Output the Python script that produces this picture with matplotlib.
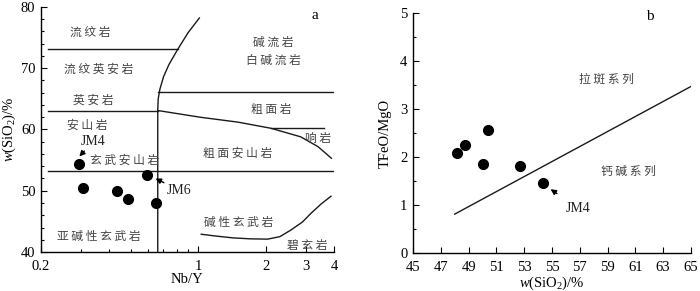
import matplotlib
matplotlib.use('Agg')
import matplotlib.pyplot as plt
from matplotlib.ticker import FixedLocator, FixedFormatter, MultipleLocator, NullFormatter

plt.rcParams['font.family'] = ['Liberation Serif', 'Noto Sans CJK SC']
plt.rcParams['mathtext.fontset'] = 'custom'
plt.rcParams['mathtext.rm'] = 'Liberation Serif'
plt.rcParams['mathtext.it'] = 'Liberation Serif:italic'

# --- panel a: Nb/Y vs SiO2 ---
nby = [0.295, 0.306, 0.435, 0.487, 0.594, 0.649]
sio2_a = [54.4, 50.4, 50.0, 48.65, 52.6, 48.05]

# field boundaries
line_rhy = ([0.215, 0.81], [73.1, 73.1])
line_dac = ([0.215, 0.66], [63.1, 63.1])
line_bas = ([0.215, 4.0], [53.2, 53.2])
line_trach = ([0.66, 4.0], [66.1, 66.1])
line_phon = ([2.1, 3.6], [60.2, 60.2])
curve_alk_x = [1.01, 0.90, 0.81, 0.74, 0.70, 0.675, 0.663, 0.66, 0.66]
curve_alk_y = [78.2, 75.8, 73.1, 70.6, 68.6, 66.6, 65.0, 63.1, 40.0]
curve_tr_x = [0.66, 1.02, 1.5, 2.1, 2.85, 3.4, 3.9]
curve_tr_y = [63.1, 62.0, 61.2, 60.2, 58.8, 57.2, 55.3]
curve_bsn_x = [1.03, 1.2, 1.43, 1.7, 2.03, 2.3, 2.58, 2.9, 3.16, 3.5, 3.88]
curve_bsn_y = [42.9, 42.6, 42.3, 42.15, 42.1, 42.5, 43.6, 44.9, 46.3, 47.8, 49.1]

# --- panel b: SiO2 vs TFeO/MgO ---
sio2_b = [48.14, 48.74, 50.01, 52.68, 54.37, 50.42]
feo_mgo = [2.08, 2.25, 1.85, 1.81, 1.45, 2.56]
miyashiro_x = [48.0, 65.0]
miyashiro_y = [0.81, 3.47]
xticks_b = [45, 47, 49, 51, 53, 55, 57, 59, 61, 63, 65]

fig = plt.figure(figsize=(7.0, 2.91), dpi=100)
ax1 = fig.add_axes([0.0586, 0.134, 0.4184, 0.842])
ax2 = fig.add_axes([0.59, 0.1306, 0.397, 0.8244])

lc = '#1a1a1a'
tc = '#444444'
cfs = 8.5
cjk = ['Noto Sans CJK SC']
for xs, ys in [line_rhy, line_dac, line_bas, line_trach, line_phon]:
    ax1.plot(xs, ys, color=lc, lw=1.0)
ax1.plot(curve_alk_x, curve_alk_y, color=lc, lw=1.0)
ax1.plot(curve_tr_x, curve_tr_y, color=lc, lw=1.0)
ax1.plot(curve_bsn_x, curve_bsn_y, color=lc, lw=1.0)
ax1.plot(nby, sio2_a, 'o', color='black', ms=7, zorder=5)

labels_a = [
    ('流 纹 岩', 0.33, 75.9), ('流 纹 英 安 岩', 0.36, 69.9), ('英 安 岩', 0.34, 64.8),
    ('安 山 岩', 0.32, 60.7), ('玄 武 安 山 岩', 0.47, 54.9), ('粗 面 安 山 岩', 1.49, 56.1),
    ('碱 流 岩', 2.16, 74.3), ('白 碱 流 岩', 2.16, 71.3), ('粗 面 岩', 2.1, 63.3),
    ('响 岩', 3.4, 58.6), ('碱 性 玄 武 岩', 1.51, 44.9), ('亚 碱 性 玄 武 岩', 0.36, 42.5),
    ('碧 玄 岩', 3.06, 41.0),
]
for s, x, y in labels_a:
    ax1.text(x, y, s, fontsize=cfs, ha='center', va='center', color=tc, family=cjk)

ax1.annotate('JM4', xy=(0.296, 55.6), xytext=(0.34, 58.0), fontsize=10, color='#222222',
             ha='center', va='center',
             arrowprops=dict(arrowstyle='-|>', color='black', lw=1.0, shrinkA=6, shrinkB=0,
                             mutation_scale=8))
ax1.annotate('JM6', xy=(0.645, 52.0), xytext=(0.82, 50.1), fontsize=10, color='#222222',
             ha='center', va='center',
             arrowprops=dict(arrowstyle='-|>', color='black', lw=1.0, shrinkA=9, shrinkB=0,
                             mutation_scale=8))
ax1.text(3.3, 78.6, 'a', fontsize=11, ha='center', va='center')

ax1.set_xscale('log')
ax1.set_xlim(0.2, 4)
ax1.set_ylim(40, 80)
ax1.xaxis.set_major_locator(FixedLocator([0.2, 1, 2, 3, 4]))
ax1.xaxis.set_major_formatter(FixedFormatter(['0.2', '1', '2', '3', '4']))
ax1.xaxis.set_minor_locator(FixedLocator([0.3, 0.4, 0.5, 0.6, 0.7, 0.8, 0.9]))
ax1.xaxis.set_minor_formatter(NullFormatter())
ax1.yaxis.set_major_locator(MultipleLocator(10))
ax1.yaxis.set_minor_locator(MultipleLocator(2))
ax1.set_xlabel('Nb/Y', fontsize=10.5, labelpad=0)
ax1.set_ylabel(r'$\mathit{w}$(SiO$_2$)/%', fontsize=10.5, labelpad=2)

# panel b
ax2.plot(miyashiro_x, miyashiro_y, color=lc, lw=1.0)
ax2.plot(sio2_b, feo_mgo, 'o', color='black', ms=7, zorder=5)
ax2.text(58.9, 3.62, '拉 斑 系 列', fontsize=cfs, ha='center', va='center', color=tc, family=cjk)
ax2.text(60.5, 1.71, '钙 碱 系 列', fontsize=cfs, ha='center', va='center', color=tc, family=cjk)
ax2.annotate('JM4', xy=(54.9, 1.33), xytext=(56.9, 0.93), fontsize=10, color='#222222',
             ha='center', va='center',
             arrowprops=dict(arrowstyle='-|>', color='black', lw=1.0, shrinkA=7, shrinkB=0,
                             mutation_scale=8))
ax2.text(62.05, 4.92, 'b', fontsize=11, ha='center', va='center')
ax2.set_xlim(45, 65)
ax2.set_ylim(0, 5)
ax2.xaxis.set_major_locator(FixedLocator(xticks_b))
ax2.yaxis.set_major_locator(MultipleLocator(1))
ax2.yaxis.set_minor_locator(MultipleLocator(0.5))
ax2.set_xlabel(r'$\mathit{w}$(SiO$_2$)/%', fontsize=10.5, labelpad=0)
ax2.set_ylabel('TFeO/MgO', fontsize=10.5, labelpad=6)

for ax in (ax1, ax2):
    ax.spines['top'].set_visible(False)
    ax.spines['right'].set_visible(False)
    for sp in ('left', 'bottom'):
        ax.spines[sp].set_linewidth(1.0)
    ax.tick_params(which='both', direction='in', labelsize=10.5, width=0.8)
    ax.tick_params(axis='x', which='both', pad=6)
    ax.tick_params(axis='y', which='both', pad=4)
    ax.tick_params(which='major', length=4)
    ax.tick_params(which='minor', length=2.5)

fig.savefig('out.png', dpi=100)
